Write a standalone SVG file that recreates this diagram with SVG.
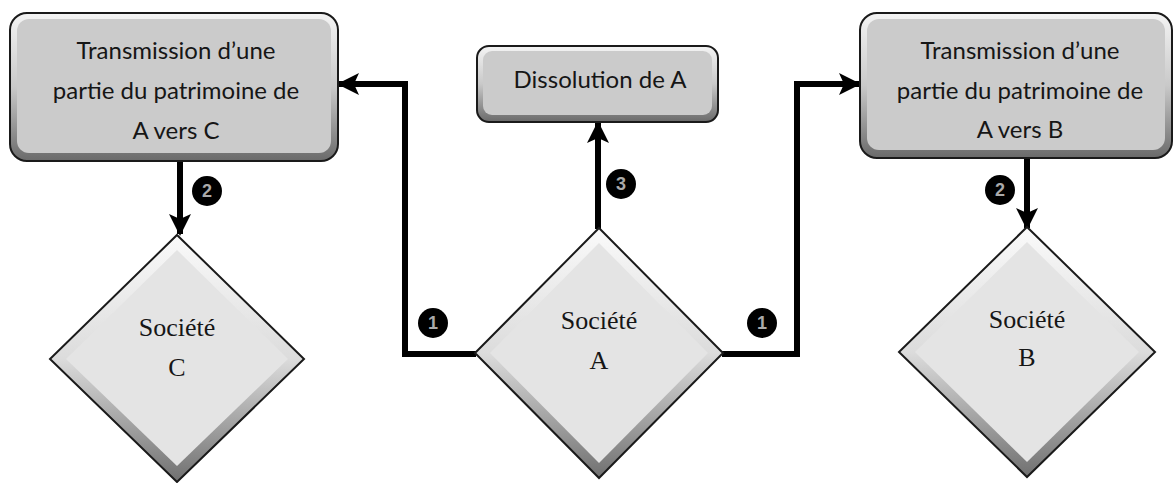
<svg xmlns="http://www.w3.org/2000/svg" width="1174" height="483" viewBox="0 0 1174 483">
<defs>
<linearGradient id="boxBevel" x1="0" y1="0" x2="0" y2="1">
<stop offset="0" stop-color="#f4f4f4"/>
<stop offset="0.5" stop-color="#c9c9c9"/>
<stop offset="1" stop-color="#6a6a6a"/>
</linearGradient>
<linearGradient id="diaBevel" x1="0" y1="0" x2="0" y2="1">
<stop offset="0" stop-color="#fafafa"/>
<stop offset="0.5" stop-color="#dcdcdc"/>
<stop offset="1" stop-color="#707070"/>
</linearGradient>
<marker id="ah" markerUnits="userSpaceOnUse" markerWidth="22" markerHeight="22" viewBox="0 0 22 22" refX="20" refY="11" orient="auto">
<path d="M0,0 L22,11 L0,22 L5,11 Z" fill="#000"/>
</marker>
<style>
.box-outer{fill:url(#boxBevel);stroke:#1a1a1a;stroke-width:2}
.box-inner{fill:#cbcbcb}
.dia-outer{fill:url(#diaBevel);stroke:#1a1a1a;stroke-width:2}
.dia-inner{fill:#e4e4e4}
.btxt{font-family:Lato,"Open Sans","Liberation Sans",sans-serif;font-size:24px;fill:#161616;text-anchor:middle}
.dtxt{font-family:"Liberation Serif","DejaVu Serif",serif;font-size:26px;fill:#161616;text-anchor:middle}
.conn{fill:none;stroke:#000;stroke-width:6;stroke-linejoin:miter}
.badge circle{fill:#000}
.badge text{font-family:"Liberation Sans",sans-serif;font-size:18px;font-weight:bold;fill:#aaa;text-anchor:middle}
</style>
</defs>
<rect width="1174" height="483" fill="#fff"/>

<g id="connectors">
<path class="conn" d="M476,354 H405 V84 H339" marker-end="url(#ah)"/>
<path class="conn" d="M722,354 H797 V84 H859" marker-end="url(#ah)"/>
<path class="conn" d="M598,229 V123" marker-end="url(#ah)"/>
<path class="conn" d="M180,161 V234" marker-end="url(#ah)"/>
<path class="conn" d="M1027,158 V228" marker-end="url(#ah)"/>
</g>

<g id="node-box-c">
<rect class="box-outer" x="10" y="13" width="328" height="148" rx="17"/>
<rect class="box-inner" x="17" y="19" width="314" height="134" rx="12"/>
<text class="btxt" x="176" y="59">Transmission d’une</text>
<text class="btxt" x="176" y="99">partie du patrimoine de</text>
<text class="btxt" x="176" y="139">A vers C</text>
</g>

<g id="node-dissolution">
<rect class="box-outer" x="477" y="46" width="241" height="76" rx="12"/>
<rect class="box-inner" x="483" y="51" width="229" height="64" rx="9"/>
<text class="btxt" x="600" y="88">Dissolution de A</text>
</g>

<g id="node-box-b">
<rect class="box-outer" x="860" y="13" width="312" height="145" rx="17"/>
<rect class="box-inner" x="867" y="19" width="298" height="131" rx="12"/>
<text class="btxt" x="1020" y="59">Transmission d’une</text>
<text class="btxt" x="1020" y="99">partie du patrimoine de</text>
<text class="btxt" x="1020" y="138">A vers B</text>
</g>

<g id="node-societe-c">
<polygon class="dia-outer" points="177,235 304,359 177,482 50,359"/>
<polygon class="dia-inner" points="177,250 288,359 177,466 66,359"/>
<text class="dtxt" x="177" y="336">Société</text>
<text class="dtxt" x="177" y="376">C</text>
</g>

<g id="node-societe-a">
<polygon class="dia-outer" points="599,228 723,353 599,478 475,353"/>
<polygon class="dia-inner" points="599,243 708,353 599,463 490,353"/>
<text class="dtxt" x="599" y="329">Société</text>
<text class="dtxt" x="599" y="369">A</text>
</g>

<g id="node-societe-b">
<polygon class="dia-outer" points="1027,227 1155,352 1027,477 899,352"/>
<polygon class="dia-inner" points="1027,242 1139,352 1027,462 915,352"/>
<text class="dtxt" x="1027" y="328">Société</text>
<text class="dtxt" x="1027" y="366">B</text>
</g>

<g id="badges">
<g class="badge"><circle cx="433" cy="323" r="15"/><text x="433" y="329">1</text></g>
<g class="badge"><circle cx="762" cy="323" r="15"/><text x="762" y="329">1</text></g>
<g class="badge"><circle cx="621" cy="184" r="15"/><text x="621" y="190">3</text></g>
<g class="badge"><circle cx="207" cy="191" r="15"/><text x="207" y="197">2</text></g>
<g class="badge"><circle cx="1000" cy="190" r="15"/><text x="1000" y="196">2</text></g>
</g>
</svg>
